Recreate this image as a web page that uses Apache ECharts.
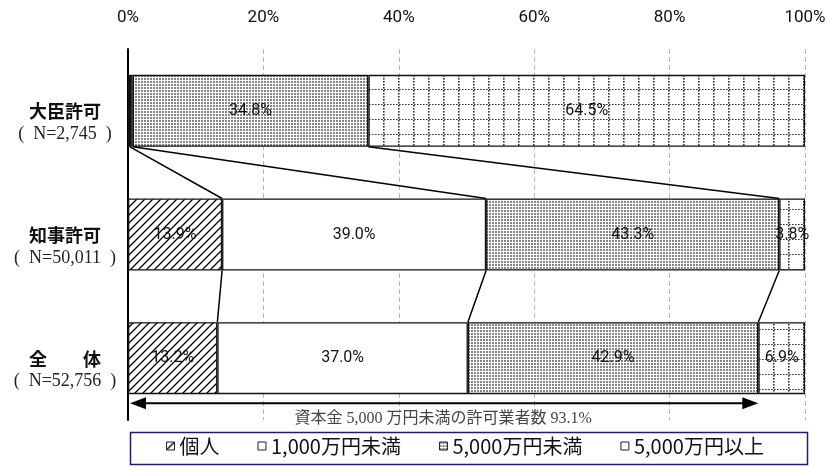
<!DOCTYPE html>
<html>
<head>
<meta charset="utf-8">
<script src="https://cdn.jsdelivr.net/npm/echarts@6/dist/echarts.min.js"></script>
<style>
html,body{margin:0;padding:0;background:#fff;}
#chart{width:830px;height:467px;}
</style>
</head>
<body>
<div id="chart"></div>
<script>
// ---- data ----
const categoryTitles = ['大臣許可', '知事許可', '全　　体'];
const sampleSizes = ['N=2,745', 'N=50,011', 'N=52,756'];
const seriesNames = ['個人', '1,000万円未満', '5,000万円未満', '5,000万円以上'];
const kojin = [0.3, 13.9, 13.2];
const under1000 = [0.4, 39.0, 37.0];
const under5000 = [34.8, 43.3, 42.9];
const over5000 = [64.5, 3.8, 6.9];
const axisMin = 0, axisMax = 100, axisStep = 20;
const arrowCaptionPrefix = '資本金 5,000 万円未満の許可業者数 ';

// ---- styles ----
const BAR_W = 72;
const NUMFONT = "Roboto,'Liberation Sans',sans-serif";

function makePattern(w, h, draw) {
  const c = document.createElement('canvas');
  c.width = w; c.height = h;
  const ctx = c.getContext('2d');
  ctx.fillStyle = '#fff';
  ctx.fillRect(0, 0, w, h);
  draw(ctx);
  return { image: c, repeat: 'repeat' };
}
const hatch = makePattern(8, 8, ctx => {
  ctx.strokeStyle = '#000';
  ctx.lineWidth = 1.3;
  ctx.beginPath();
  ctx.moveTo(-1, 9); ctx.lineTo(9, -1);
  ctx.moveTo(-5, 5); ctx.lineTo(5, -5);
  ctx.moveTo(3, 13); ctx.lineTo(13, 3);
  ctx.stroke();
});
const dots = makePattern(3, 3, ctx => {
  ctx.fillStyle = '#858585';
  ctx.fillRect(0, 0, 2, 2);
});
const dotGrid = makePattern(15, 15, ctx => {
  ctx.fillStyle = '#333';
  for (let k = 0; k < 5; k++) {
    ctx.fillRect(8, k * 3, 1.6, 1.6);
    ctx.fillRect(k * 3, 14, 1.6, 1.6);
  }
});
const fills = [hatch, '#ffffff', dots, dotGrid];
const seriesValues = [kojin, under1000, under5000, over5000];

// cumulative boundaries
const cum = seriesValues.map((_, s) => categoryTitles.map((__, i) => {
  let t = 0; for (let k = 0; k <= s; k++) t += seriesValues[k][i]; return t;
}));
const connectors = [];
for (let i = 0; i < categoryTitles.length - 1; i++) {
  for (let s = 0; s < 3; s++) connectors.push([cum[s][i], i, cum[s][i + 1], i + 1]);
}
const lastIdx = categoryTitles.length - 1;
const arrowData = [[0, cum[2][lastIdx], lastIdx]];

const barSeries = seriesNames.map((name, s) => ({
  name,
  type: 'bar',
  stack: 'total',
  barWidth: BAR_W,
  itemStyle: { color: fills[s], borderColor: '#111', borderWidth: 1.3 },
  label: {
    show: true, position: 'inside', color: '#111',
    fontFamily: NUMFONT, fontSize: 16,
    formatter: p => p.value.toFixed(1) + '%'
  },
  emphasis: { disabled: true },
  data: seriesValues[s].map(v => ({ value: v, label: { show: v >= 1 } }))
}));

const chart = echarts.init(document.getElementById('chart'));
chart.setOption({
  animation: false,
  grid: { left: 128, right: 25, top: 49, bottom: 47 },
  graphic: [{
    type: 'rect', left: 128, top: 430,
    shape: { width: 677, height: 32 },
    style: { fill: 'none', stroke: '#1e1e70', lineWidth: 1.5 }, silent: true
  }],
  xAxis: {
    type: 'value', position: 'top', min: axisMin, max: axisMax, interval: axisStep,
    axisLine: { show: false }, axisTick: { show: false },
    axisLabel: { formatter: '{value}%', margin: 23, color: '#111', fontFamily: NUMFONT, fontSize: 17 },
    splitLine: { show: true, lineStyle: { color: '#b8b8b8', type: [5, 3], width: 1 } }
  },
  yAxis: {
    type: 'category', inverse: true,
    data: categoryTitles.map((t, i) => t + '\n' + sampleSizes[i]),
    axisLine: { show: true, lineStyle: { color: '#000', width: 2 } },
    axisTick: { show: false },
    axisLabel: {
      align: 'center', margin: 63, padding: [24, 0, 0, 0],
      formatter: (v, i) => '{t|' + categoryTitles[i] + '}\n{n|(  ' + sampleSizes[i] + '  )}',
      rich: {
        t: { fontSize: 18, fontWeight: 'bold', fontFamily: "'Noto Sans CJK JP'", color: '#111', lineHeight: 23, align: 'center' },
        n: { fontSize: 18, fontFamily: "'Liberation Serif','Noto Sans CJK JP'", color: '#222', lineHeight: 23, align: 'center' }
      }
    }
  },
  legend: {
    data: seriesNames, top: 430, left: 128, icon: 'rect',
    itemWidth: 8, itemHeight: 8, itemGap: 38,
    padding: [6, 0, 6, 38],
    itemStyle: { borderWidth: 1, borderColor: '#222' },
    textStyle: { fontSize: 20, fontFamily: "'Noto Sans CJK JP'", color: '#111' },
    selectedMode: false
  },
  series: barSeries.concat([
    {
      type: 'custom', name: 'connectors', silent: true, clip: false,
      encode: { x: [0, 2], y: 1 },
      renderItem: (params, api) => {
        const a = api.coord([api.value(0), api.value(1)]);
        const b = api.coord([api.value(2), api.value(3)]);
        return { type: 'line', shape: { x1: a[0], y1: a[1] + BAR_W / 2, x2: b[0], y2: b[1] - BAR_W / 2 },
          style: { stroke: '#000', lineWidth: 1.5 } };
      },
      data: connectors, z: 3
    },
    {
      type: 'custom', name: 'arrow', silent: true, clip: false,
      encode: { x: [0, 1], y: 2 },
      renderItem: (params, api) => {
        const a = api.coord([api.value(0), api.value(2)]);
        const b = api.coord([api.value(1), api.value(2)]);
        const y = a[1] + BAR_W / 2 + 9;
        const L = 16, H = 6;
        return { type: 'group', children: [
          { type: 'line', shape: { x1: a[0] + L - 2, y1: y, x2: b[0] - L + 2, y2: y }, style: { stroke: '#000', lineWidth: 2 } },
          { type: 'polygon', shape: { points: [[a[0] + 2, y], [a[0] + 2 + L, y - H], [a[0] + 2 + L, y + H]] }, style: { fill: '#000' } },
          { type: 'polygon', shape: { points: [[b[0], y], [b[0] - L, y - H], [b[0] - L, y + H]] }, style: { fill: '#000' } },
          { type: 'text', style: { text: arrowCaptionPrefix + api.value(1).toFixed(1) + '%', x: (a[0] + b[0]) / 2, y: y + 16,
            align: 'center', verticalAlign: 'middle', fontSize: 16,
            fontFamily: "'Liberation Serif','Noto Sans CJK JP'", fill: '#444' } }
        ] };
      },
      data: arrowData, z: 3
    }
  ])
});
</script>
</body>
</html>
